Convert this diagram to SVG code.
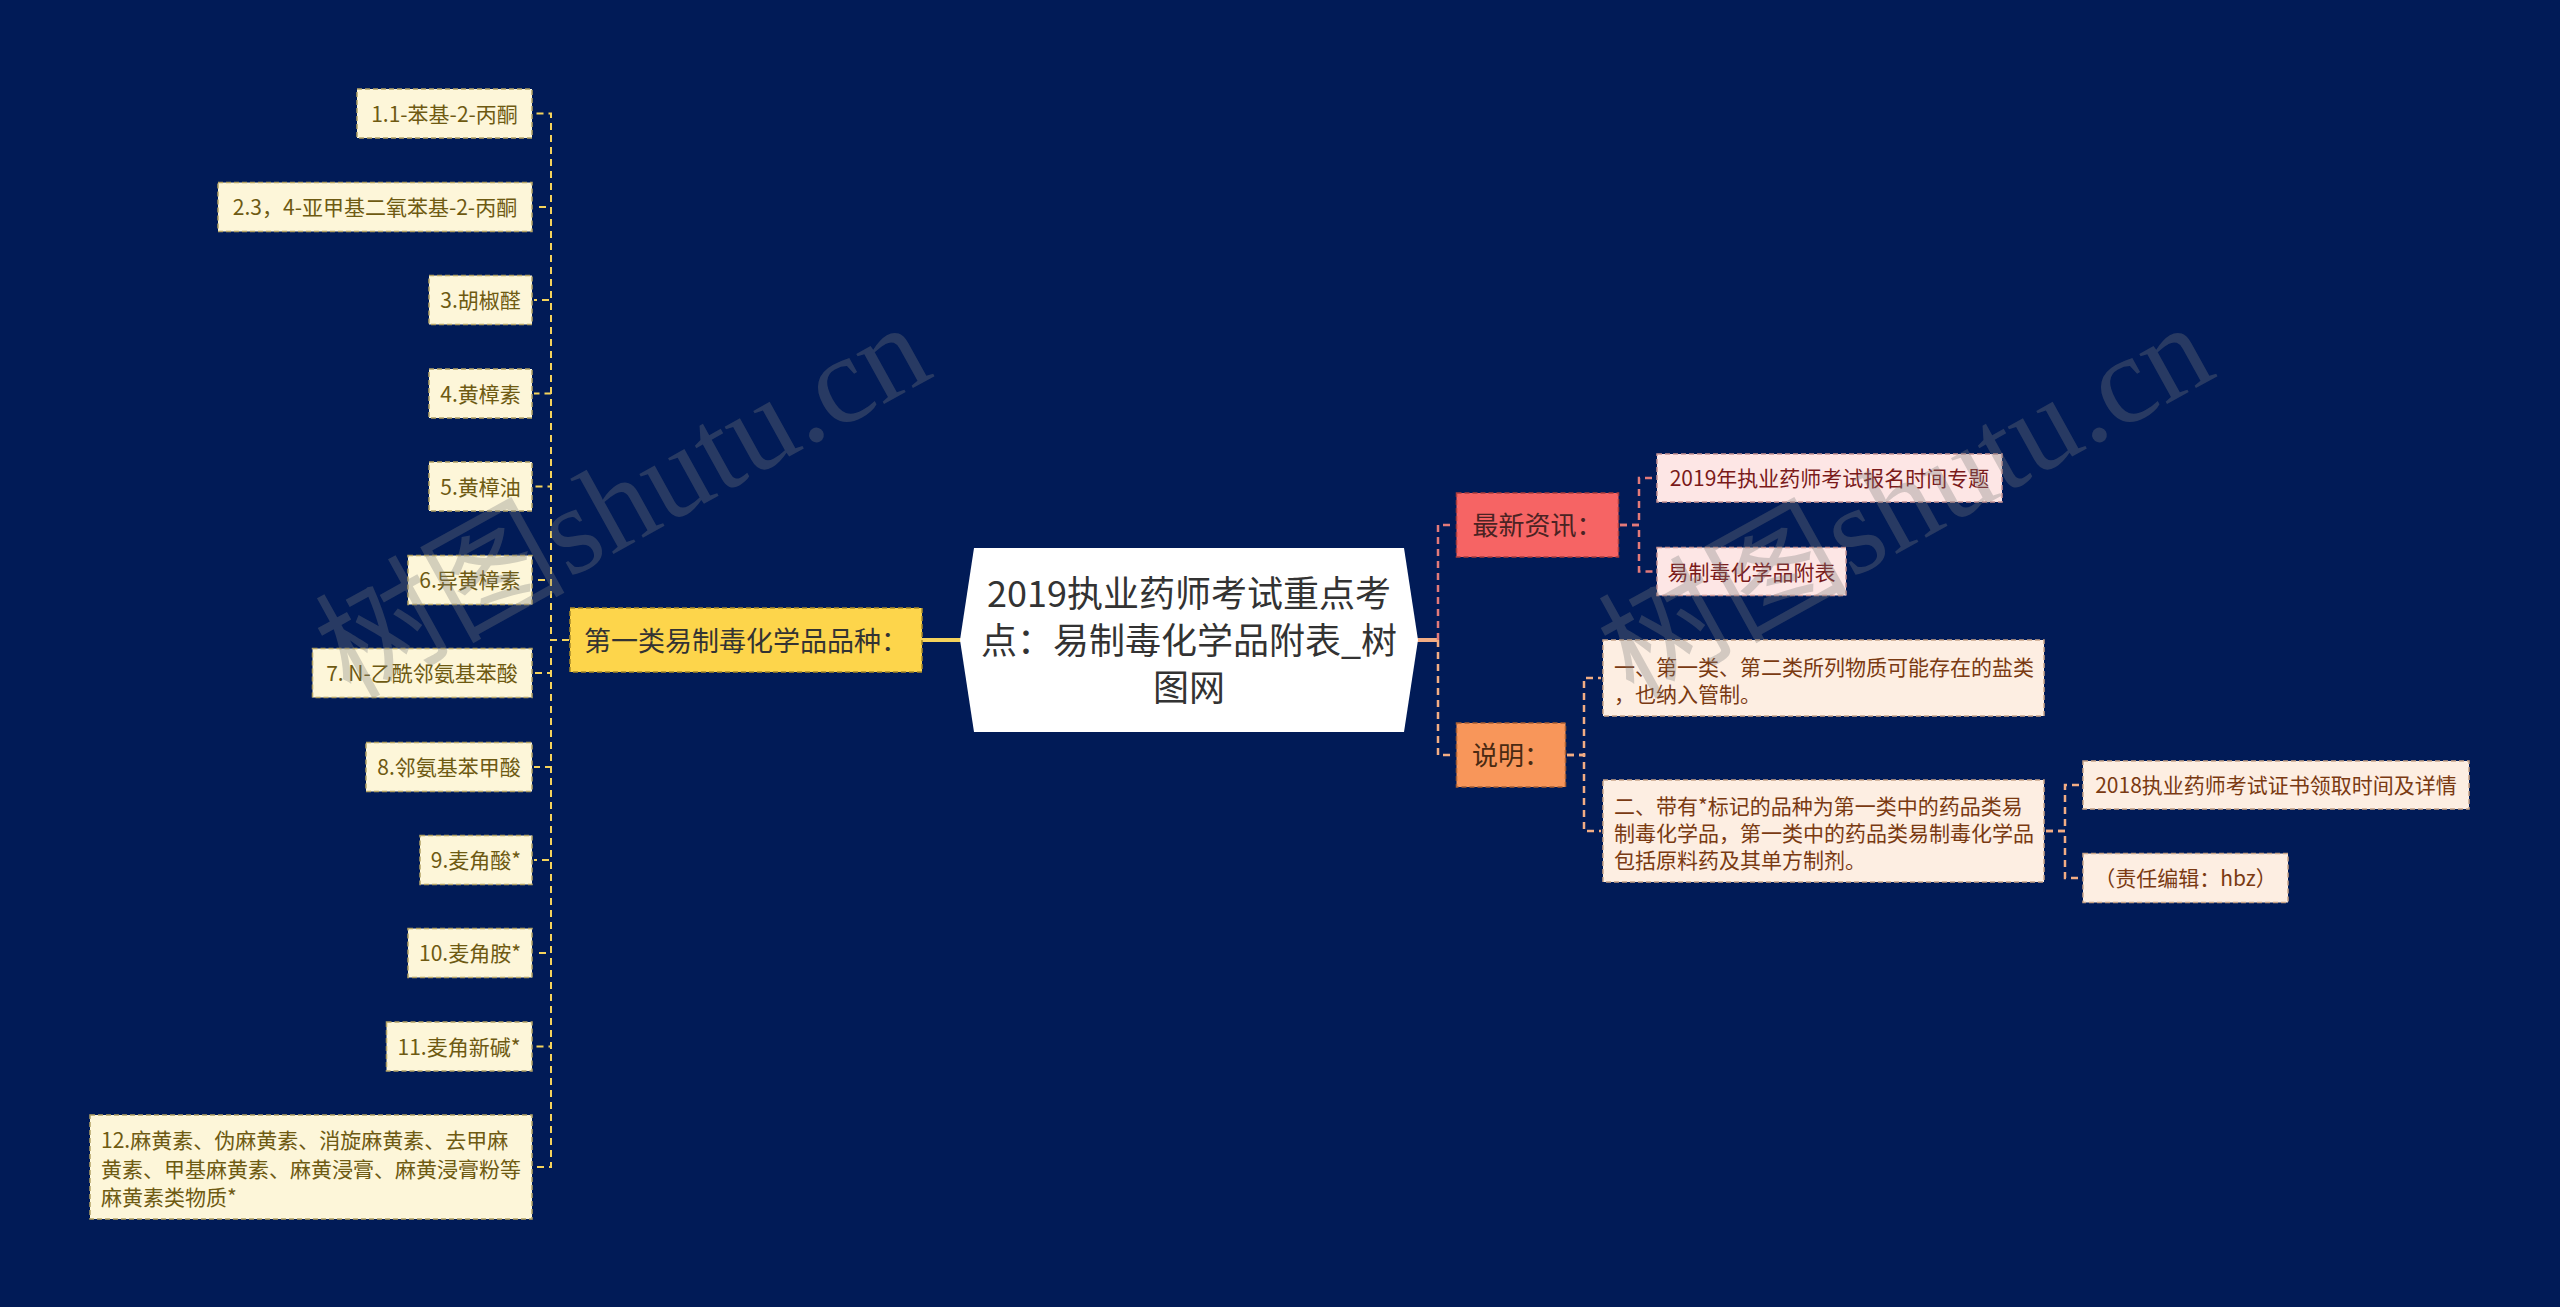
<svg xmlns="http://www.w3.org/2000/svg" width="2560" height="1307" viewBox="0 0 2560 1307">
<style>
text{font-family:"Noto Sans CJK SC","Liberation Sans",sans-serif;}
.leaf rect{fill:#fdf6d9;stroke:#b3a264;stroke-width:1.5;stroke-dasharray:5 3;}
.leaf text{font-size:21px;fill:#6e5a12;}
.cat rect{fill:#fdd54b;stroke:#a88a28;stroke-width:1.5;stroke-dasharray:5 3;}
.cat text{font-size:27px;fill:#333;}
.news rect{fill:#f66464;stroke:#a83c3c;stroke-width:1.5;stroke-dasharray:5 3;}
.news text{font-size:26px;fill:#4a2323;}
.newsc rect{fill:#fde6e5;stroke:#c89494;stroke-width:1.5;stroke-dasharray:5 3;}
.newsc text{font-size:21px;fill:#7a1a1a;}
.note rect{fill:#f8965a;stroke:#a55e34;stroke-width:1.5;stroke-dasharray:5 3;}
.note text{font-size:26px;fill:#4a2a12;}
.notec rect{fill:#fdeee2;stroke:#c8a488;stroke-width:1.5;stroke-dasharray:5 3;}
.notec text{font-size:21px;fill:#7a3a12;}
.cy{fill:none;stroke:#f5d35c;stroke-width:2;stroke-dasharray:7 5;}
.cp{fill:none;stroke:#e27a7a;stroke-width:2.5;stroke-dasharray:7 5;}
.co{fill:none;stroke:#f2ad84;stroke-width:2.5;stroke-dasharray:7 5;}
.wm{font-family:"Liberation Serif","Noto Sans CJK SC",serif;font-size:125px;fill:#7c7c7c;fill-opacity:0.32;}
</style>
<rect x="0" y="0" width="2560" height="1307" fill="#011b57"/>

<g id="connectors">
  <path class="cy" d="M569 640 H551 V113.5 H534"/>
  <path class="cy" d="M569 640 H551 V207 H534"/>
  <path class="cy" d="M569 640 H551 V300 H534"/>
  <path class="cy" d="M569 640 H551 V393.5 H534"/>
  <path class="cy" d="M569 640 H551 V486.5 H534"/>
  <path class="cy" d="M569 640 H551 V580 H534"/>
  <path class="cy" d="M569 640 H551 V673 H534"/>
  <path class="cy" d="M569 640 H551 V767 H534"/>
  <path class="cy" d="M569 640 H551 V860 H534"/>
  <path class="cy" d="M569 640 H551 V953 H534"/>
  <path class="cy" d="M569 640 H551 V1046.5 H534"/>
  <path class="cy" d="M569 640 H551 V1167 H534"/>
  <path d="M922 640 H962" fill="none" stroke="#f5d35c" stroke-width="4"/>
  <path d="M1417 640 H1438" fill="none" stroke="#f2ad84" stroke-width="4"/>
  <path class="cp" d="M1438 640 V525 H1454"/>
  <path class="co" d="M1438 640 V755 H1454"/>
  <path class="cp" d="M1620 525 H1639 V478 H1655"/>
  <path class="cp" d="M1620 525 H1639 V571.5 H1655"/>
  <path class="co" d="M1567 755 H1584 V678 H1601"/>
  <path class="co" d="M1567 755 H1584 V831 H1601"/>
  <path class="co" d="M2046 831 H2065 V785 H2081"/>
  <path class="co" d="M2046 831 H2065 V878 H2081"/>
</g>

<g id="center">
  <polygon points="974,548 1404,548 1418,640 1404,732 974,732 960,640" fill="#ffffff"/>
  <text x="1189" y="606.5" text-anchor="middle" font-size="36" fill="#333">2019执业药师考试重点考</text>
  <text x="1189" y="653.5" text-anchor="middle" font-size="36" fill="#333">点：易制毒化学品附表_树</text>
  <text x="1189" y="700.5" text-anchor="middle" font-size="36" fill="#333">图网</text>
</g>

<g id="cat1" class="cat">
  <rect x="570" y="608" width="352" height="64"/>
  <text x="746" y="650.5" text-anchor="middle">第一类易制毒化学品品种：</text>
</g>

<g id="leaf1" class="leaf"><rect x="357" y="89" width="175" height="49"/><text x="444.5" y="121.5" text-anchor="middle">1.1-苯基-2-丙酮</text></g>
<g id="leaf2" class="leaf"><rect x="218" y="182.5" width="314" height="49"/><text x="375" y="215" text-anchor="middle">2.3，4-亚甲基二氧苯基-2-丙酮</text></g>
<g id="leaf3" class="leaf"><rect x="429" y="275.5" width="103" height="49"/><text x="480.5" y="308" text-anchor="middle">3.胡椒醛</text></g>
<g id="leaf4" class="leaf"><rect x="429" y="369" width="103" height="49"/><text x="480.5" y="401.5" text-anchor="middle">4.黄樟素</text></g>
<g id="leaf5" class="leaf"><rect x="429" y="462" width="103" height="49"/><text x="480.5" y="494.5" text-anchor="middle">5.黄樟油</text></g>
<g id="leaf6" class="leaf"><rect x="408" y="555.5" width="124" height="49"/><text x="470" y="588" text-anchor="middle">6.异黄樟素</text></g>
<g id="leaf7" class="leaf"><rect x="312.5" y="648.5" width="219.5" height="49"/><text x="422" y="681" text-anchor="middle">7. N-乙酰邻氨基苯酸</text></g>
<g id="leaf8" class="leaf"><rect x="366" y="742.5" width="166" height="49"/><text x="449" y="775" text-anchor="middle">8.邻氨基苯甲酸</text></g>
<g id="leaf9" class="leaf"><rect x="420" y="835.5" width="112" height="49"/><text x="476" y="868" text-anchor="middle">9.麦角酸*</text></g>
<g id="leaf10" class="leaf"><rect x="408" y="928.5" width="124" height="49"/><text x="470" y="961" text-anchor="middle">10.麦角胺*</text></g>
<g id="leaf11" class="leaf"><rect x="386.5" y="1022" width="145.5" height="49"/><text x="459" y="1054.5" text-anchor="middle">11.麦角新碱*</text></g>
<g id="leaf12" class="leaf">
  <rect x="90" y="1115" width="442" height="104"/>
  <text x="101" y="1148">12.麻黄素、伪麻黄素、消旋麻黄素、去甲麻</text>
  <text x="101" y="1176.5">黄素、甲基麻黄素、麻黄浸膏、麻黄浸膏粉等</text>
  <text x="101" y="1205">麻黄素类物质*</text>
</g>

<g id="news" class="news">
  <rect x="1456.5" y="493" width="162" height="64"/>
  <text x="1537.5" y="535" text-anchor="middle">最新资讯：</text>
</g>
<g id="news1" class="newsc"><rect x="1657" y="454" width="345" height="48"/><text x="1829.5" y="486" text-anchor="middle">2019年执业药师考试报名时间专题</text></g>
<g id="news2" class="newsc"><rect x="1657" y="547.5" width="189" height="48"/><text x="1751.5" y="579.5" text-anchor="middle">易制毒化学品附表</text></g>

<g id="note" class="note">
  <rect x="1456.5" y="723" width="109" height="64"/>
  <text x="1511" y="765" text-anchor="middle">说明：</text>
</g>
<g id="note1" class="notec">
  <rect x="1603" y="640" width="441" height="76"/>
  <text x="1614" y="674.5">一、第一类、第二类所列物质可能存在的盐类</text>
  <text x="1614" y="702">，也纳入管制。</text>
</g>
<g id="note2" class="notec">
  <rect x="1603" y="780" width="441" height="102"/>
  <text x="1614" y="814">二、带有*标记的品种为第一类中的药品类易</text>
  <text x="1614" y="841">制毒化学品，第一类中的药品类易制毒化学品</text>
  <text x="1614" y="867.5">包括原料药及其单方制剂。</text>
</g>
<g id="note3" class="notec"><rect x="2083" y="761" width="386" height="48"/><text x="2276" y="793" text-anchor="middle">2018执业药师考试证书领取时间及详情</text></g>
<g id="note4" class="notec"><rect x="2083" y="853.5" width="205" height="49"/><text x="2185.5" y="886" text-anchor="middle">（责任编辑：hbz）</text></g>

<g id="watermark">
  <text class="wm" x="350" y="700" transform="rotate(-29 350 700)">树图shutu.cn</text>
  <text class="wm" x="1633" y="700" transform="rotate(-29 1633 700)">树图shutu.cn</text>
</g>
</svg>
